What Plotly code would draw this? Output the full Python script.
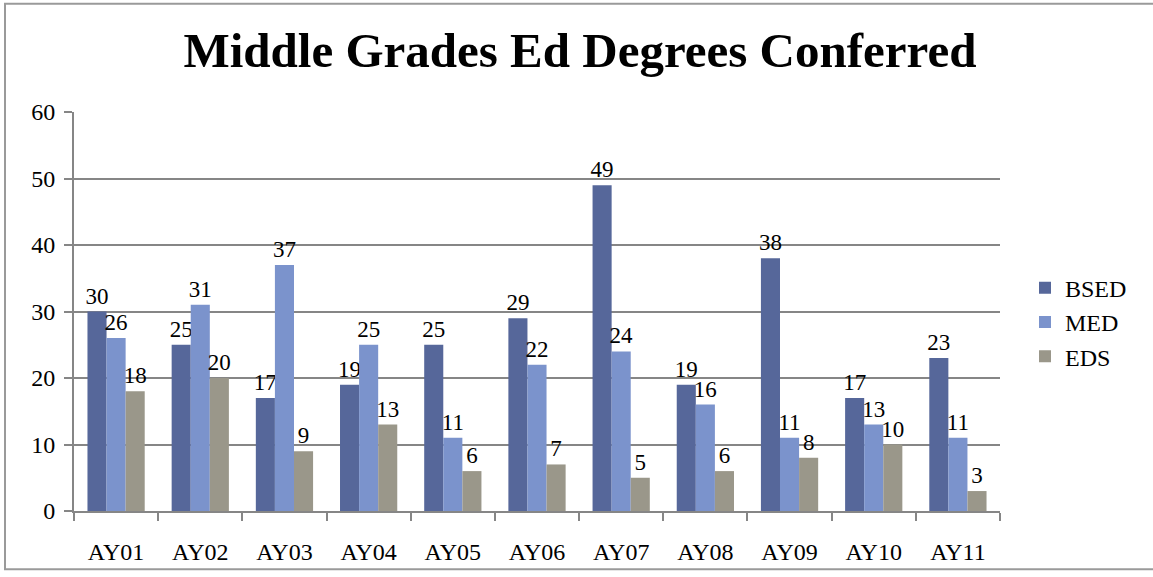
import plotly.graph_objs as go

years = ['AY01', 'AY02', 'AY03', 'AY04', 'AY05', 'AY06', 'AY07', 'AY08', 'AY09', 'AY10', 'AY11']
bsed = [30, 25, 17, 19, 25, 29, 49, 19, 38, 17, 23]
med = [26, 31, 37, 25, 11, 22, 24, 16, 11, 13, 11]
eds = [18, 20, 9, 13, 6, 7, 5, 6, 8, 10, 3]

series = [('BSED', bsed, '#56679a'), ('MED', med, '#7b93cc'), ('EDS', eds, '#9a978a')]

serif = 'Liberation Serif'

fig = go.Figure()
for name, vals, colour in series:
    fig.add_trace(go.Bar(x=years, y=vals, name=name,
                         marker=dict(color=colour, line=dict(width=0)),
                         text=vals, textposition='outside', cliponaxis=False, constraintext='none',
                         textfont=dict(family=serif, size=23, color='black')))

fig.update_layout(title=dict(text='<b>Middle Grades Ed Degrees Conferred</b>', x=0.503, xanchor='center',
                             y=0.913, yanchor='middle', font=dict(family=serif, size=49, color='black')),
                  font=dict(family=serif, size=24, color='black'),
                  barmode='group', bargap=0.32, bargroupgap=0,
                  xaxis=dict(tickson='boundaries', ticks='outside', ticklen=8, tickcolor='#868686',
                             tickwidth=2, showline=True, linecolor='#868686', linewidth=2,
                             ticklabelstandoff=18, tickfont=dict(family=serif, size=24, color='black')),
                  yaxis=dict(range=[0, 60], dtick=10, ticks='outside', ticklen=8, tickcolor='#868686',
                             tickwidth=2, showgrid=True, gridcolor='#868686', gridwidth=2,
                             showline=True, linecolor='#868686', linewidth=2, zeroline=False,
                             ticklabelstandoff=4, tickfont=dict(family=serif, size=24, color='black')),
                  legend=dict(x=1.027, y=0.473, xanchor='left', yanchor='middle',
                              font=dict(family=serif, size=24, color='black'),
                              itemwidth=30, tracegroupgap=0),
                  plot_bgcolor='white', paper_bgcolor='white',
                  margin=dict(l=74, r=153, t=112, b=60),
                  width=1153, height=577,
                  shapes=[dict(type='rect', xref='paper', yref='paper',
                               x0=(5 - 74) / 926, x1=(1170 - 74) / 926,
                               y0=-(576 - 517) / 405, y1=(517 - 2) / 405,
                               line=dict(color='#9a9a9a', width=2))])

# drop the default page margin so the figure sits at the window's top-left corner
fig.write_html('out.html', config={'displayModeBar': False},
               post_script="document.body.style.margin='0';")
